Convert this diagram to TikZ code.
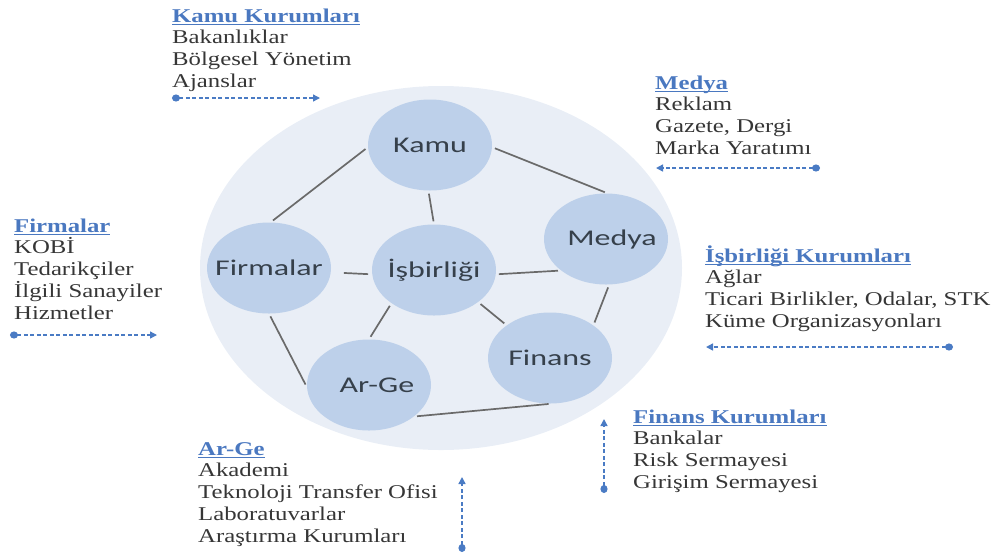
\documentclass[tikz,border=0pt]{standalone}
\usepackage{fontspec}
\setmainfont{Liberation Serif}[FakeStretch=1.27]
\newfontfamily\lblfont{Carlito}[FakeStretch=1.42]
\usetikzlibrary{shapes.geometric,arrows.meta}
\definecolor{bigfill}{HTML}{E9EEF6}
\definecolor{cfill}{HTML}{BDD0EA}
\definecolor{ctext}{HTML}{36404B}
\definecolor{linec}{HTML}{6A6A6A}
\definecolor{titlec}{HTML}{4A78C0}
\definecolor{bodyc}{HTML}{363636}
\definecolor{arrc}{HTML}{4A7BC4}
\newcommand\ttl[1]{{\color{titlec}\setbox0\hbox{\bfseries #1}\rlap{\rule[-2.6pt]{\wd0}{1.1pt}}\box0}}
\newcommand\lline[1]{\hbox{#1}}
\newcommand\blk[1]{\vtop{\baselineskip=21.8pt #1}}
\newcommand\clbl[1]{\makebox[0pt]{#1}}
\tikzset{
  bigc/.style={ellipse, fill=bigfill, draw=none, minimum width=482pt, minimum height=364pt, inner sep=0pt},
  circ/.style={ellipse, fill=cfill, draw=none, minimum width=124pt, minimum height=91pt, inner sep=0pt,
    text=ctext, font=\lblfont\fontsize{22.5}{25}\selectfont},
  conn/.style={draw=linec, line width=1.7pt, shorten >=3pt, shorten <=3pt},
  darr/.style={draw=arrc, line width=1.4pt, dash pattern=on 4pt off 2.5pt,
    {Circle[length=8pt,width=7pt]}-{Triangle[length=7pt,width=7pt]}},
  txtblk/.style={anchor=base west, inner sep=0pt, text=bodyc, font=\fontsize{19.5}{21.8}\selectfont}
}
\begin{document}
\begin{tikzpicture}[x=1pt,y=-1pt]
\useasboundingbox (0,0) rectangle (1003,558);
\node[bigc] (big) at (441,268) {};

\node[circ] (kamu) at (430,145) {\clbl{Kamu}};
\node[circ] (medya) at (606,239) {\clbl{\hspace{12pt}Medya}};
\node[circ] (firm) at (269,268) {\clbl{Firmalar}};
\node[circ] (isb) at (434,270) {\clbl{İşbirliği}};
\node[circ] (arge) at (369,385) {\clbl{\hspace{16pt}Ar-Ge}};
\node[circ] (fin) at (550,358) {\clbl{Finans}};

\draw[conn] (kamu.182) -- (firm.88);
\draw[conn] (kamu.358) -- (medya.88);
\draw[conn] (kamu.268) -- (isb.90);
\draw[conn, shorten <=13pt, shorten >=4pt] (firm.356) -- (isb.184);
\draw[conn] (isb.356) -- (medya.215);
\draw[conn] (isb.218) -- (arge.90);
\draw[conn] (isb.324) -- (fin.143);
\draw[conn] (medya.274) -- (fin.37);
\draw[conn] (firm.270) -- (arge.182);
\draw[conn] (arge.325) -- (fin.272);

\node[txtblk] (tkamu) at (172,22) {\blk{\lline{\ttl{Kamu Kurumları}}\lline{Bakanlıklar}\lline{Bölgesel Yönetim}\lline{Ajanslar}}};
\node[txtblk] (tmedya) at (655,89) {\blk{\lline{\ttl{Medya}}\lline{Reklam}\lline{Gazete, Dergi}\lline{Marka Yaratımı}}};
\node[txtblk] (tfirm) at (14,232) {\blk{\lline{\ttl{Firmalar}}\lline{KOBİ}\lline{Tedarikçiler}\lline{İlgili Sanayiler}\lline{Hizmetler}}};
\node[txtblk] (tisb) at (705,262) {\blk{\lline{\ttl{İşbirliği Kurumları}}\lline{Ağlar}\lline{Ticari Birlikler, Odalar, STK}\lline{Küme Organizasyonları}}};
\node[txtblk] (tfin) at (633,423) {\blk{\lline{\ttl{Finans Kurumları}}\lline{Bankalar}\lline{Risk Sermayesi}\lline{Girişim Sermayesi}}};
\node[txtblk] (targe) at (198,455) {\blk{\lline{\ttl{Ar-Ge}}\lline{Akademi}\lline{Teknoloji Transfer Ofisi}\lline{Laboratuvarlar}\lline{Araştırma Kurumları}}};

\coordinate (a1s) at (172,98);  \coordinate (a1e) at (320,98);
\coordinate (a2s) at (820,168); \coordinate (a2e) at (656,168);
\coordinate (a3s) at (10,335);  \coordinate (a3e) at (157,335);
\coordinate (a4s) at (953,347); \coordinate (a4e) at (706,347);
\coordinate (a5s) at (604,493); \coordinate (a5e) at (604,419);
\coordinate (a6s) at (462,552); \coordinate (a6e) at (462,477);
\draw[darr] (a1s) -- (a1e);
\draw[darr] (a2s) -- (a2e);
\draw[darr] (a3s) -- (a3e);
\draw[darr] (a4s) -- (a4e);
\draw[darr] (a5s) -- (a5e);
\draw[darr] (a6s) -- (a6e);
\end{tikzpicture}
\end{document}
